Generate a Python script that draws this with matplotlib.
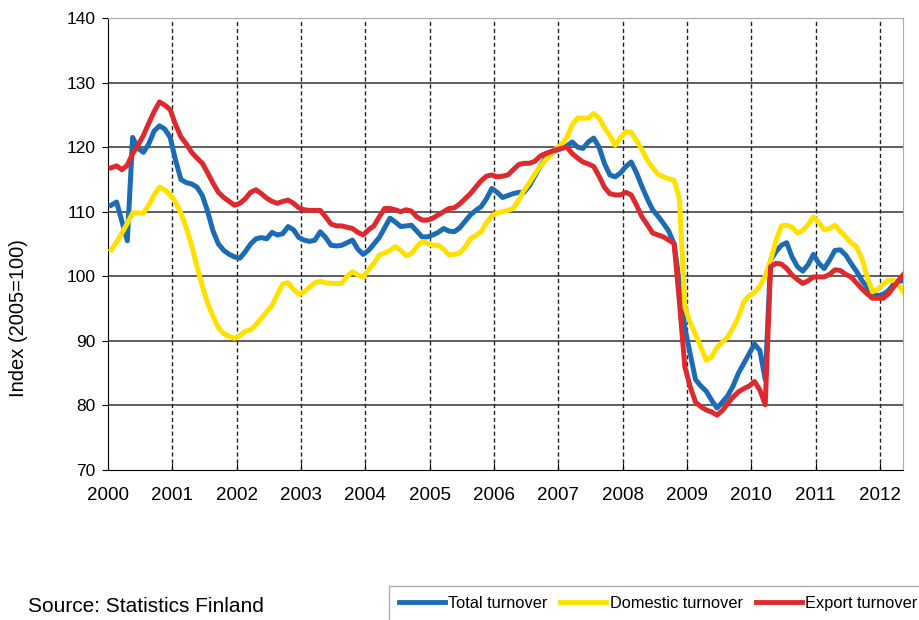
import numpy as np
import matplotlib
matplotlib.use("Agg")
import matplotlib.pyplot as plt

plt.rcParams['font.family'] = ['Liberation Sans', 'DejaVu Sans']

# monthly index values, Jan 2000 - May 2012 (2005=100)
total = [
    111.0, 111.5, 108.5, 105.5, 121.5, 119.8, 119.2, 120.5, 122.5, 123.3, 122.8, 121.5,  # 2000
    118.0, 115.0, 114.5, 114.3, 113.8, 112.5, 110.0, 107.0, 105.0, 104.0, 103.4, 103.0,  # 2001
    102.8, 103.8, 105.0, 105.8, 106.0, 105.8, 106.8, 106.4, 106.6, 107.7, 107.2, 106.0,  # 2002
    105.6, 105.4, 105.6, 106.9, 106.0, 104.8, 104.7, 104.8, 105.2, 105.6, 104.2, 103.4,  # 2003
    104.0, 105.0, 106.0, 107.5, 109.0, 108.4, 107.7, 107.8, 107.9, 107.0, 106.1, 106.1,  # 2004
    106.4, 106.8, 107.4, 107.0, 106.9, 107.5, 108.5, 109.5, 110.2, 110.8, 112.0, 113.6,  # 2005
    113.0, 112.2, 112.5, 112.8, 113.0, 113.0, 114.0, 115.5, 117.0, 118.3, 119.0, 119.5,  # 2006
    119.8, 120.2, 120.8, 120.0, 119.8, 120.8, 121.4, 120.0, 117.5, 115.7, 115.4, 116.0,  # 2007
    117.0, 117.7, 116.0, 113.9, 112.0, 110.3, 109.3, 108.2, 107.0, 105.0, 99.0, 92.0,    # 2008
    88.0, 84.0, 83.0, 82.2, 80.8, 79.6, 80.5, 81.5, 83.0, 85.0, 86.5, 88.0,              # 2009
    89.5, 88.5, 84.0, 102.5, 103.8, 104.8, 105.2, 103.0, 101.5, 100.8, 101.8, 103.4,     # 2010
    102.0, 101.2, 102.5, 104.0, 104.1, 103.3, 102.0, 100.8, 99.4, 98.3, 97.3, 97.0,      # 2011
    97.2, 97.8, 98.8, 99.2, 99.4,                                                          # 2012
]
domestic = [
    104.1, 105.3, 106.7, 108.2, 109.8, 109.8, 109.8, 111.0, 112.6, 113.8, 113.4, 112.6,  # 2000
    111.5, 109.8, 107.5, 104.8, 101.5, 98.5, 95.8, 93.8, 92.0, 91.1, 90.7, 90.4,         # 2001
    90.8, 91.5, 91.7, 92.5, 93.5, 94.5, 95.5, 97.2, 98.8, 99.0, 98.0, 97.2,              # 2002
    97.6, 98.3, 99.0, 99.2, 99.0, 98.9, 98.9, 98.9, 100.0, 100.7, 100.2, 99.9,           # 2003
    101.0, 102.0, 103.3, 103.6, 104.0, 104.6, 104.0, 103.2, 103.5, 104.6, 105.4, 105.1,  # 2004
    104.8, 104.8, 104.2, 103.3, 103.4, 103.6, 104.5, 105.8, 106.3, 106.9, 108.3, 109.4,  # 2005
    109.8, 110.0, 110.2, 110.5, 111.8, 113.3, 114.5, 115.8, 117.0, 118.0, 118.8, 119.8,  # 2006
    120.4, 121.5, 123.5, 124.5, 124.5, 124.5, 125.2, 124.5, 123.0, 121.8, 120.3, 121.5,  # 2007
    122.4, 122.3, 121.0, 119.6, 118.0, 116.8, 115.8, 115.4, 115.1, 114.9, 112.0, 95.3,   # 2008
    92.8, 91.0, 89.0, 87.0, 87.5, 89.0, 89.8, 90.6, 92.0, 93.7, 96.0, 97.0,              # 2009
    97.5, 98.5, 100.0, 102.5, 105.5, 107.8, 107.9, 107.6, 106.7, 107.1, 108.0, 109.2,    # 2010
    108.3, 107.2, 107.4, 107.9, 107.0, 106.1, 105.2, 104.6, 102.8, 100.0, 97.6, 98.0,    # 2011
    98.8, 99.4, 99.4, 98.5, 97.4,                                                          # 2012
]
export = [
    116.8, 117.1, 116.5, 117.2, 119.0, 120.3, 121.8, 123.7, 125.5, 127.0, 126.5, 125.8,  # 2000
    123.5, 121.6, 120.5, 119.2, 118.3, 117.5, 116.0, 114.4, 113.0, 112.2, 111.6, 111.0,  # 2001
    111.3, 112.0, 113.0, 113.4, 112.8, 112.1, 111.6, 111.3, 111.6, 111.8, 111.3, 110.6,  # 2002
    110.3, 110.2, 110.2, 110.2, 109.2, 108.1, 107.8, 107.8, 107.6, 107.4, 106.8, 106.4,  # 2003
    107.2, 107.8, 109.2, 110.5, 110.5, 110.3, 110.0, 110.3, 110.1, 109.2, 108.7, 108.7,  # 2004
    109.0, 109.5, 110.0, 110.5, 110.6, 111.2, 112.0, 112.8, 113.8, 114.8, 115.5, 115.7,  # 2005
    115.4, 115.5, 115.7, 116.5, 117.3, 117.5, 117.5, 117.8, 118.6, 119.0, 119.3, 119.6,  # 2006
    119.8, 120.0, 119.0, 118.3, 117.7, 117.4, 117.0, 115.5, 113.8, 112.8, 112.6, 112.6,  # 2007
    113.0, 112.6, 111.0, 109.2, 108.0, 106.7, 106.4, 106.1, 105.6, 105.1, 96.0, 86.0,    # 2008
    82.9, 80.5, 79.8, 79.3, 79.0, 78.5, 79.2, 80.3, 81.3, 82.1, 82.6, 83.0,              # 2009
    83.7, 82.4, 80.1, 101.5, 102.0, 101.9, 101.2, 100.2, 99.5, 98.9, 99.3, 99.9,         # 2010
    99.9, 99.9, 100.3, 101.0, 100.9, 100.3, 99.9, 99.0, 98.1, 97.3, 96.6, 96.6,          # 2011
    96.6, 97.3, 98.4, 99.5, 100.5,                                                         # 2012
]
years = list(range(2000, 2013))
yticks = [70, 80, 90, 100, 110, 120, 130, 140]

# mid-month positions
t = 2000 + (np.arange(len(total)) + 0.6) / 12.0

fig = plt.figure(figsize=(9.2, 6.2), dpi=100)
ax = fig.add_axes([108/920, 1 - 470/620, (903 - 108)/920, (470 - 18)/620])

for y in yticks[1:-1]:
    ax.axhline(y, color='#333333', lw=1.1, zorder=1)
for yr in years[1:]:
    ax.axvline(yr, color='#222222', lw=1, ls=(0, (3, 2)), zorder=1)

ax.plot(t, total, color='#1b6cb4', lw=3.6, label='Total turnover', zorder=3)
ax.plot(t, domestic, color='#ffe100', lw=3.6, label='Domestic turnover', zorder=3)
ax.plot(t, export, color='#dd2a2f', lw=3.6, label='Export turnover', zorder=3)

ax.set_xlim(2000, 2000 + 148.3 / 12)
ax.set_ylim(70, 140)
ax.set_xticks(years)
ax.set_yticks(yticks)
ax.tick_params(axis='x', direction='in', length=5, pad=12, labelsize=13.5)
ax.tick_params(axis='y', direction='out', length=4, pad=5, labelsize=12.5)
ax.spines['top'].set_color('#aaaaaa')
ax.spines['right'].set_color('#aaaaaa')
ax.spines['left'].set_color('black')
ax.spines['bottom'].set_color('black')

ax.set_ylabel('Index (2005=100)', fontsize=14.5)
ax.yaxis.set_label_coords(-0.10, 0.336)

fig.text(28/920, 1 - 606/620, 'Source: Statistics Finland', fontsize=15, va='center')

leg = fig.legend(loc='upper left', bbox_to_anchor=(389/920, 1 - 586/620), ncol=3,
                 fontsize=11.8, handlelength=2.8, handletextpad=0.2, columnspacing=0.8,
                 frameon=True, fancybox=False, borderpad=0.6, borderaxespad=0)
leg.get_frame().set_edgecolor('#999999')
leg.get_frame().set_linewidth(1)
for line in leg.get_lines():
    line.set_linewidth(3.5)

fig.savefig('out.png', dpi=100)
